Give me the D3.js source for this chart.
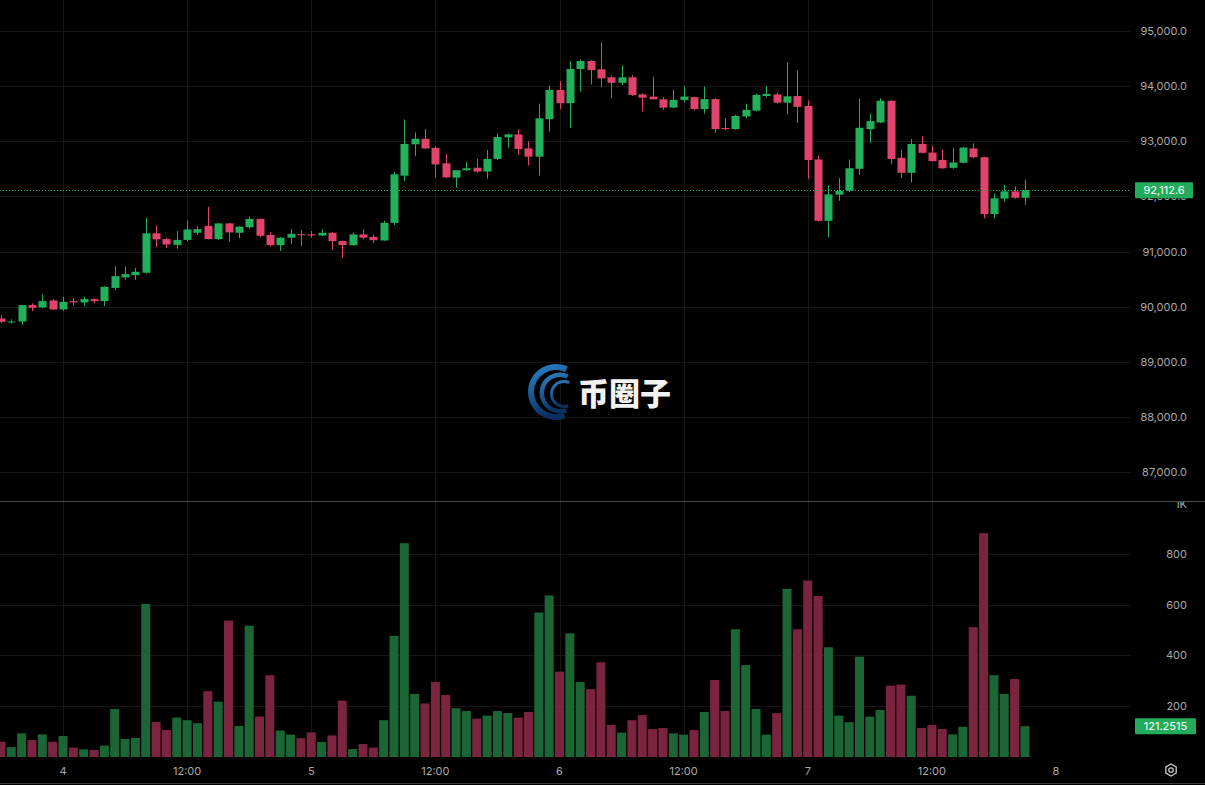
<!DOCTYPE html>
<html lang="en">
<head>
<meta charset="UTF-8">
<title>BTC 1h candles</title>
<script src="https://d3js.org/d3.v7.min.js"></script>
<style>
html, body { margin: 0; padding: 0; background: #000; }
body { font-family: 'Inter', 'Roboto', sans-serif; }
#chart svg { display: block; background: #000; }
.axis-label { font-size: 11px; fill: #a9a9a9; }
.grid line { stroke: #161616; stroke-width: 1; }
</style>
</head>
<body>
<div id="chart"></div>
<script>

// --------------------------------------
// Data (hourly candles, day 3 18:00 -> day 7 21:00)
// --------------------------------------

const opens = [89786,89724,89730,90027,89985,90112,89949,90100,90076,90136,
  90100,90340,90530,90572,90614,91330,91225,91120,91210,91340,
  91466,91225,91510,91340,91440,91590,91300,91115,91250,91315,
  91310,91290,91340,91190,91115,91310,91265,91200,91520,92375,
  92945,93045,92880,92600,92340,92475,92520,92450,92680,93070,
  93125,92870,92720,93400,93930,93690,94310,94455,94305,94160,
  94060,94160,93850,93810,93760,93610,93750,93800,93585,93765,
  93240,93220,93450,93555,93820,93850,93700,93820,93640,92670,
  91557,92030,92100,92500,93220,93340,93735,92700,92428,92950,
  92795,92660,92518,92610,92870,92710,91680,91960,92090,91975];
const highs = [89846,89770,90030,90060,90225,90130,90180,90150,90180,90150,
  90370,90730,90730,90700,91610,91470,91250,91370,91560,91460,
  91811,91520,91520,91460,91630,91600,91350,91260,91410,91390,
  91370,91400,91350,91200,91340,91400,91310,91560,92440,93397,
  93160,93220,92900,92770,92360,92620,92680,92840,93140,93140,
  93216,93000,93680,94010,94090,94450,94480,94470,94795,94190,
  94380,94200,93870,94170,93800,93930,94000,93810,93990,93780,
  93420,93480,93680,93860,94000,93880,94432,94280,93740,92745,
  92200,92330,92670,93770,93500,93780,93740,92850,93040,93090,
  92920,92850,92880,92900,92960,92720,92050,92210,92180,92300];
const lows = [89700,89690,89670,89920,89970,89940,89920,90020,90010,90060,
  90010,90300,90490,90490,90600,91080,91060,91050,91190,91300,
  91220,91210,91180,91240,91420,91260,91090,91010,91140,91100,
  91250,91280,91030,90880,91100,91220,91150,91190,91480,92280,
  92730,92860,92340,92330,92160,92460,92430,92320,92660,92880,
  92750,92560,92380,93175,93580,93240,93900,94030,93980,93780,
  94020,93820,93540,93780,93570,93600,93700,93560,93500,93150,
  93200,93210,93420,93540,93800,93680,93490,93330,92320,91540,
  91260,91920,92080,92390,92970,93330,92580,92330,92250,92780,
  92630,92500,92500,92600,92690,91600,91600,91900,91960,91850];
const closes = [89724,89730,90027,89978,90100,89949,90087,90076,90136,90100,
  90359,90553,90590,90632,91330,91220,91128,91210,91400,91405,
  91225,91510,91347,91450,91590,91285,91115,91250,91320,91295,
  91290,91340,91188,91115,91310,91250,91205,91520,92400,92950,
  93045,92870,92580,92345,92475,92510,92450,92680,93075,93125,
  92860,92720,93415,93930,93690,94310,94455,94290,94140,94060,
  94160,93840,93790,93760,93610,93750,93810,93585,93765,93220,
  93220,93460,93570,93840,93860,93700,93815,93625,92660,91557,
  92036,92100,92510,93245,93366,93735,92677,92428,92950,92790,
  92640,92510,92615,92885,92710,91680,91965,92090,91975,92112.6];
const volumes = [60,39,93,67,89,60,83,37,30,28,
  45,189,71,75,603,138,106,155,145,133,
  259,218,537,122,517,159,322,104,88,74,
  97,59,85,222,31,51,37,145,477,842,
  248,211,295,244,192,181,151,163,181,173,
  155,177,569,636,336,487,295,267,373,126,
  96,145,165,110,114,93,88,106,177,303,
  181,503,362,189,88,173,662,503,695,634,
  432,163,137,395,159,185,281,285,241,114,
  126,110,89,119,511,881,322,248,307,121.2515];
const firstHour = -6; // first candle = day 3, 18:00

const priceTicks = [87000,88000,89000,90000,91000,92000,93000,94000,95000];
const volumeTicks = [200,400,600,800,1000];
const timeTicks = [0,12,24,36,48,60,72,84,96];
const timeLabels = ["4","12:00","5","12:00","6","12:00","7","12:00","8"];

// --------------------------------------
// Size and layout
// --------------------------------------

const totalWidth = 1205, totalHeight = 785;
const plotRight = 1131;
const up = "#22b05c", down = "#e0436c";
const volUp = "#1c6636", volDown = "#7b2440";

const svg = d3.select("#chart").append("svg")
  .attr("width", totalWidth)
  .attr("height", totalHeight);

// --------------------------------------
// Scales
// --------------------------------------

const x = d3.scaleLinear().domain([0, 96]).range([63, 1056]);
const y = d3.scaleLinear().domain([87000, 95000]).range([472, 31]);
const yv = d3.scaleLinear().domain([0, 1000]).range([757, 503]);

const candles = opens.map((o, i) => ({
  h: firstHour + i, o: o, hi: highs[i], lo: lows[i], c: closes[i], v: volumes[i]
}));

// --------------------------------------
// Grid
// --------------------------------------

const grid = svg.append("g").attr("class", "grid");
grid.selectAll(".vg").data(timeTicks.slice(0, -1)).join("line")
  .attr("x1", d => Math.round(x(d)) + 0.5).attr("x2", d => Math.round(x(d)) + 0.5)
  .attr("y1", 0).attr("y2", 757);
grid.selectAll(".hg").data(priceTicks).join("line")
  .attr("x1", 0).attr("x2", plotRight)
  .attr("y1", d => Math.round(y(d)) + 0.5).attr("y2", d => Math.round(y(d)) + 0.5);
grid.selectAll(".hv").data(volumeTicks.slice(0, -1)).join("line")
  .attr("x1", 0).attr("x2", plotRight)
  .attr("y1", d => Math.round(yv(d)) + 0.5).attr("y2", d => Math.round(yv(d)) + 0.5);

// --------------------------------------
// Watermark
// --------------------------------------

const defs = svg.append("defs");
const grad = defs.append("linearGradient").attr("id", "logoGrad")
  .attr("x1", "0%").attr("y1", "0%").attr("x2", "30%").attr("y2", "100%");
grad.append("stop").attr("offset", "0%").attr("stop-color", "#2f86d0");
grad.append("stop").attr("offset", "100%").attr("stop-color", "#0c2f5e");

defs.append("clipPath").attr("id", "volClip")
  .append("rect").attr("x", 0).attr("y", 502).attr("width", totalWidth).attr("height", 260);

const wm = svg.append("g");
const band = d3.arc().startAngle(-200 * Math.PI / 180).endAngle(25 * Math.PI / 180);
[[556, 392, 22, 28], [560, 393, 16, 20.5], [564, 394, 11, 14]].forEach(b => {
  wm.append("path")
    .attr("transform", `translate(${b[0]},${b[1]})`)
    .attr("d", band.innerRadius(b[2]).outerRadius(b[3])())
    .attr("fill", "url(#logoGrad)");
});
wm.append("text").attr("x", 578).attr("y", 405)
  .attr("font-family", "'Noto Sans CJK SC', sans-serif")
  .attr("font-weight", 900).attr("font-size", 31).attr("fill", "#f2f2f2")
  .text("币圈子");

// --------------------------------------
// Volume bars
// --------------------------------------

svg.append("g").selectAll("rect").data(candles).join("rect")
  .attr("x", d => x(d.h) - 4.5)
  .attr("width", 9)
  .attr("y", d => yv(d.v))
  .attr("height", d => yv(0) - yv(d.v))
  .attr("fill", d => d.c >= d.o ? volUp : volDown);

// --------------------------------------
// Candles
// --------------------------------------

const cg = svg.append("g").selectAll("g").data(candles).join("g");
cg.append("line")
  .attr("x1", d => Math.round(x(d.h)) + 0.5).attr("x2", d => Math.round(x(d.h)) + 0.5)
  .attr("y1", d => y(d.hi)).attr("y2", d => y(d.lo))
  .attr("stroke", d => d.c >= d.o ? up : down).attr("stroke-width", 1);
cg.append("rect")
  .attr("x", d => Math.round(x(d.h)) - 3.5)
  .attr("width", 8)
  .attr("y", d => y(Math.max(d.o, d.c)))
  .attr("height", d => Math.max(1, Math.abs(y(d.o) - y(d.c))))
  .attr("fill", d => d.c >= d.o ? up : down);

// current price line
const last = candles[candles.length - 1];
svg.append("line").attr("x1", 0).attr("x2", plotRight)
  .attr("y1", Math.round(y(last.c)) + 0.5).attr("y2", Math.round(y(last.c)) + 0.5)
  .attr("stroke", up).attr("stroke-width", 1).attr("stroke-dasharray", "1,2");

// --------------------------------------
// Axes labels
// --------------------------------------

const fmt = d3.format(",.1f");
svg.append("g").selectAll("text").data(priceTicks).join("text")
  .attr("class", "axis-label")
  .attr("x", 1187).attr("y", d => y(d) + 4)
  .attr("text-anchor", "end")
  .text(d => fmt(d));

svg.append("g").attr("clip-path", "url(#volClip)")
  .selectAll("text").data(volumeTicks).join("text")
  .attr("class", "axis-label")
  .attr("x", 1187).attr("y", d => yv(d) + (d === 1000 ? 5 : 4))
  .attr("text-anchor", "end")
  .text(d => d === 1000 ? "1K" : d);

svg.append("g").selectAll("text").data(timeTicks).join("text")
  .attr("class", "axis-label")
  .attr("x", d => x(d)).attr("y", 775)
  .attr("text-anchor", "middle")
  .text((d, i) => timeLabels[i]);

// pane separators
svg.append("line").attr("x1", 0).attr("x2", totalWidth)
  .attr("y1", 501.5).attr("y2", 501.5).attr("stroke", "#4a4a4a");
svg.append("line").attr("x1", 0).attr("x2", totalWidth)
  .attr("y1", 783.5).attr("y2", 783.5).attr("stroke", "#3a3a3a");

// last price tag
const py = y(last.c);
svg.append("rect").attr("x", 1135).attr("y", py - 8).attr("width", 58).attr("height", 16)
  .attr("rx", 1).attr("fill", "#22ab5a");
svg.append("text").attr("x", 1164).attr("y", py + 4).attr("text-anchor", "middle")
  .attr("font-size", 11).attr("fill", "#fff").text(fmt(last.c));

// last volume tag
const vy = yv(last.v);
svg.append("rect").attr("x", 1135).attr("y", vy - 8).attr("width", 61).attr("height", 16)
  .attr("rx", 1).attr("fill", "#22ab5a");
svg.append("text").attr("x", 1165.5).attr("y", vy + 4).attr("text-anchor", "middle")
  .attr("font-size", 11).attr("fill", "#fff").text(last.v);

// settings icon
const gear = svg.append("g").attr("transform", "translate(1171,770)");
gear.append("path")
  .attr("d", d3.range(6).map(k => {
    const a = Math.PI / 3 * k + Math.PI / 6;
    return (k ? "L" : "M") + (6 * Math.cos(a)).toFixed(2) + "," + (6 * Math.sin(a)).toFixed(2);
  }).join("") + "Z")
  .attr("fill", "none").attr("stroke", "#c8c8c8").attr("stroke-width", 1.3);
gear.append("circle").attr("r", 2.2).attr("fill", "none")
  .attr("stroke", "#c8c8c8").attr("stroke-width", 1.3);

</script>
</body>
</html>
